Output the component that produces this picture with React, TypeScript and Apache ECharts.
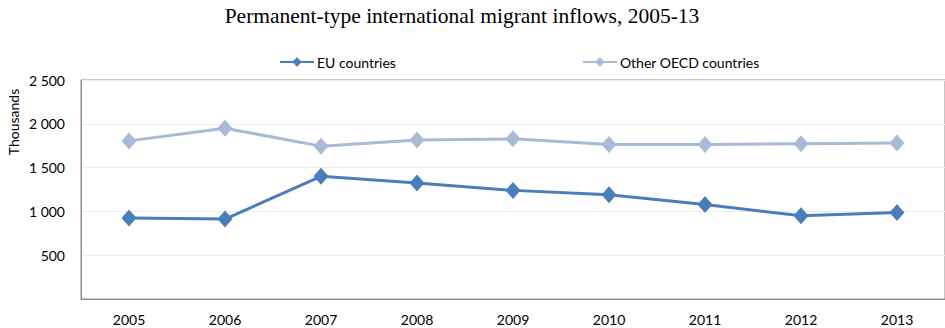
import React, { useEffect, useRef } from "react";
import * as echarts from "echarts";

const years = ["2005", "2006", "2007", "2008", "2009", "2010", "2011", "2012", "2013"];
const euCountries = [925, 912, 1400, 1325, 1240, 1190, 1078, 950, 988];
const otherOecd = [1805, 1950, 1745, 1815, 1828, 1765, 1763, 1772, 1780];
const yTicks = { min: 0, max: 2500, interval: 500 };

const fmt = (v: number) => {
  if (v === 0) return "";
  const s = String(v);
  return s.length > 3 ? s.slice(0, s.length - 3) + " " + s.slice(-3) : s;
};

export default function App() {
  const ref = useRef<HTMLDivElement>(null);
  useEffect(() => {
    document.body.style.margin = "0";
    const chart = echarts.init(ref.current!, null, { renderer: "svg" });
    const font = "Lato, 'Liberation Sans', Arial, sans-serif";
    chart.setOption({
      animation: false,
      backgroundColor: "#ffffff",
      legend: {
        left: 274,
        top: 50,
        itemGap: 186,
        itemWidth: 34,
        itemHeight: 12,
        textStyle: { fontFamily: font, fontSize: 14, color: "#000", padding: [0, 0, 0, -2] },
        data: ["EU countries", "Other OECD countries"],
      },
      grid: {
        left: 81,
        top: 80,
        width: 866,
        height: 219,
        show: true,
        borderColor: "#8c8c8c",
        borderWidth: 1,
        containLabel: false,
      },
      xAxis: {
        type: "category",
        data: years,
        boundaryGap: true,
        axisLine: { lineStyle: { color: "#8c8c8c" } },
        axisTick: { show: false },
        axisLabel: { fontFamily: font, fontSize: 14, color: "#000", margin: 13 },
      },
      yAxis: {
        type: "value",
        min: yTicks.min,
        max: yTicks.max,
        interval: yTicks.interval,
        axisLine: { show: true, lineStyle: { color: "#8c8c8c" } },
        axisTick: { show: false },
        axisLabel: { fontFamily: font, fontSize: 14, color: "#000", margin: 16, formatter: fmt },
        splitLine: { lineStyle: { color: "#ececec" } },
      },
      graphic: [
        {
          type: "text",
          x: 462,
          y: 16,
          style: {
            text: "Permanent-type international migrant inflows, 2005-13",
            fontFamily: "'Liberation Serif', 'Times New Roman', serif",
            fontSize: 21.5,
            fill: "#000",
            align: "center",
            verticalAlign: "middle",
          },
        },
        {
          type: "text",
          x: 13,
          y: 122,
          rotation: Math.PI / 2,
          style: {
            text: "Thousands",
            fontFamily: font,
            fontSize: 14,
            fill: "#000",
            align: "center",
            verticalAlign: "middle",
          },
        },
      ],
      series: [
        {
          name: "EU countries",
          type: "line",
          data: euCountries,
          symbol: "diamond",
          symbolSize: [15, 17],
          color: "#4a7ebb",
          lineStyle: { width: 3, color: "#4a7ebb" },
          itemStyle: { color: "#4a7ebb" },
          z: 3,
        },
        {
          name: "Other OECD countries",
          type: "line",
          data: otherOecd,
          symbol: "diamond",
          symbolSize: [15, 17],
          color: "#a9b9d8",
          lineStyle: { width: 3, color: "#a9b9d8" },
          itemStyle: { color: "#a9b9d8" },
          z: 2,
        },
      ],
    });
    return () => chart.dispose();
  }, []);
  return <div ref={ref} style={{ width: 945, height: 328 }} />;
}
